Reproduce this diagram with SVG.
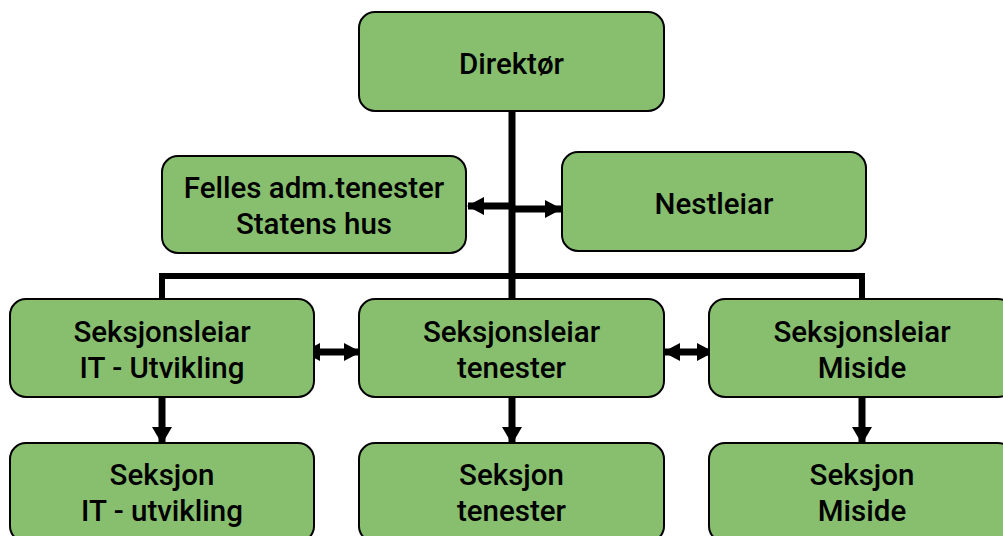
<svg xmlns="http://www.w3.org/2000/svg" width="1003" height="536" viewBox="0 0 1003 536">
<style>
.box{fill:#87bf6f;stroke:#000;stroke-width:2}
.t{font-family:Roboto,"Liberation Sans",sans-serif;font-weight:500;font-size:29.5px;fill:#000;text-anchor:middle}
.ln{stroke:#000;stroke-width:6;fill:none}
.ar{stroke:#000;stroke-width:7;fill:none}
</style>
<defs>
<marker id="ah" viewBox="0 0 17 18" refX="16" refY="9" markerWidth="17" markerHeight="18" markerUnits="userSpaceOnUse" orient="auto-start-reverse">
<path d="M0,0 L17,9 L0,18 Z" fill="#000"/>
</marker>
<marker id="ahd" viewBox="0 0 17 20" refX="16" refY="10" markerWidth="17" markerHeight="20" markerUnits="userSpaceOnUse" orient="auto">
<path d="M0,0 L17,10 L0,20 Z" fill="#000"/>
</marker>
</defs>
<g id="connectors">
<line class="ar" x1="512" y1="111" x2="512" y2="299"/>
<polyline class="ln" points="162,299 162,276 862,276 862,299"/>
<line class="ar" x1="512" y1="206" x2="468" y2="206" marker-end="url(#ah)"/>
<line class="ar" x1="510" y1="209" x2="561" y2="209" marker-end="url(#ah)"/>
<line class="ar" x1="304" y1="352" x2="360" y2="352" marker-start="url(#ah)" marker-end="url(#ah)"/>
<line class="ar" x1="664" y1="352" x2="713" y2="352" marker-start="url(#ah)" marker-end="url(#ah)"/>
<line class="ar" x1="162" y1="397" x2="162" y2="443" marker-end="url(#ahd)"/>
<line class="ar" x1="512" y1="397" x2="512" y2="443" marker-end="url(#ahd)"/>
<line class="ar" x1="862" y1="397" x2="862" y2="443" marker-end="url(#ahd)"/>
</g>
<g id="direktor"><rect class="box" x="359" y="12" width="305" height="99" rx="16"/><text class="t" x="511.5" y="74">Direktør</text></g>
<g id="felles"><rect class="box" x="162" y="156" width="304" height="97" rx="16"/><text class="t" x="314" y="198">Felles adm.tenester</text><text class="t" x="314" y="234">Statens hus</text></g>
<g id="nestleiar"><rect class="box" x="562" y="152" width="304" height="99" rx="16"/><text class="t" x="714" y="214">Nestleiar</text></g>
<g id="sl-it"><rect class="box" x="10" y="299" width="304" height="98" rx="16"/><text class="t" x="162" y="342">Seksjonsleiar</text><text class="t" x="162" y="378">IT - Utvikling</text></g>
<g id="sl-tenester"><rect class="box" x="359" y="299" width="305" height="98" rx="16"/><text class="t" x="511.5" y="342">Seksjonsleiar</text><text class="t" x="511.5" y="378">tenester</text></g>
<g id="sl-miside"><rect class="box" x="709" y="299" width="305" height="98" rx="16"/><text class="t" x="862" y="342">Seksjonsleiar</text><text class="t" x="862" y="378">Miside</text></g>
<g id="s-it"><rect class="box" x="10" y="443" width="304" height="99" rx="16"/><text class="t" x="162" y="485">Seksjon</text><text class="t" x="162" y="521">IT - utvikling</text></g>
<g id="s-tenester"><rect class="box" x="359" y="443" width="305" height="99" rx="16"/><text class="t" x="511.5" y="485">Seksjon</text><text class="t" x="511.5" y="521">tenester</text></g>
<g id="s-miside"><rect class="box" x="709" y="443" width="305" height="99" rx="16"/><text class="t" x="862" y="485">Seksjon</text><text class="t" x="862" y="521">Miside</text></g>
</svg>
